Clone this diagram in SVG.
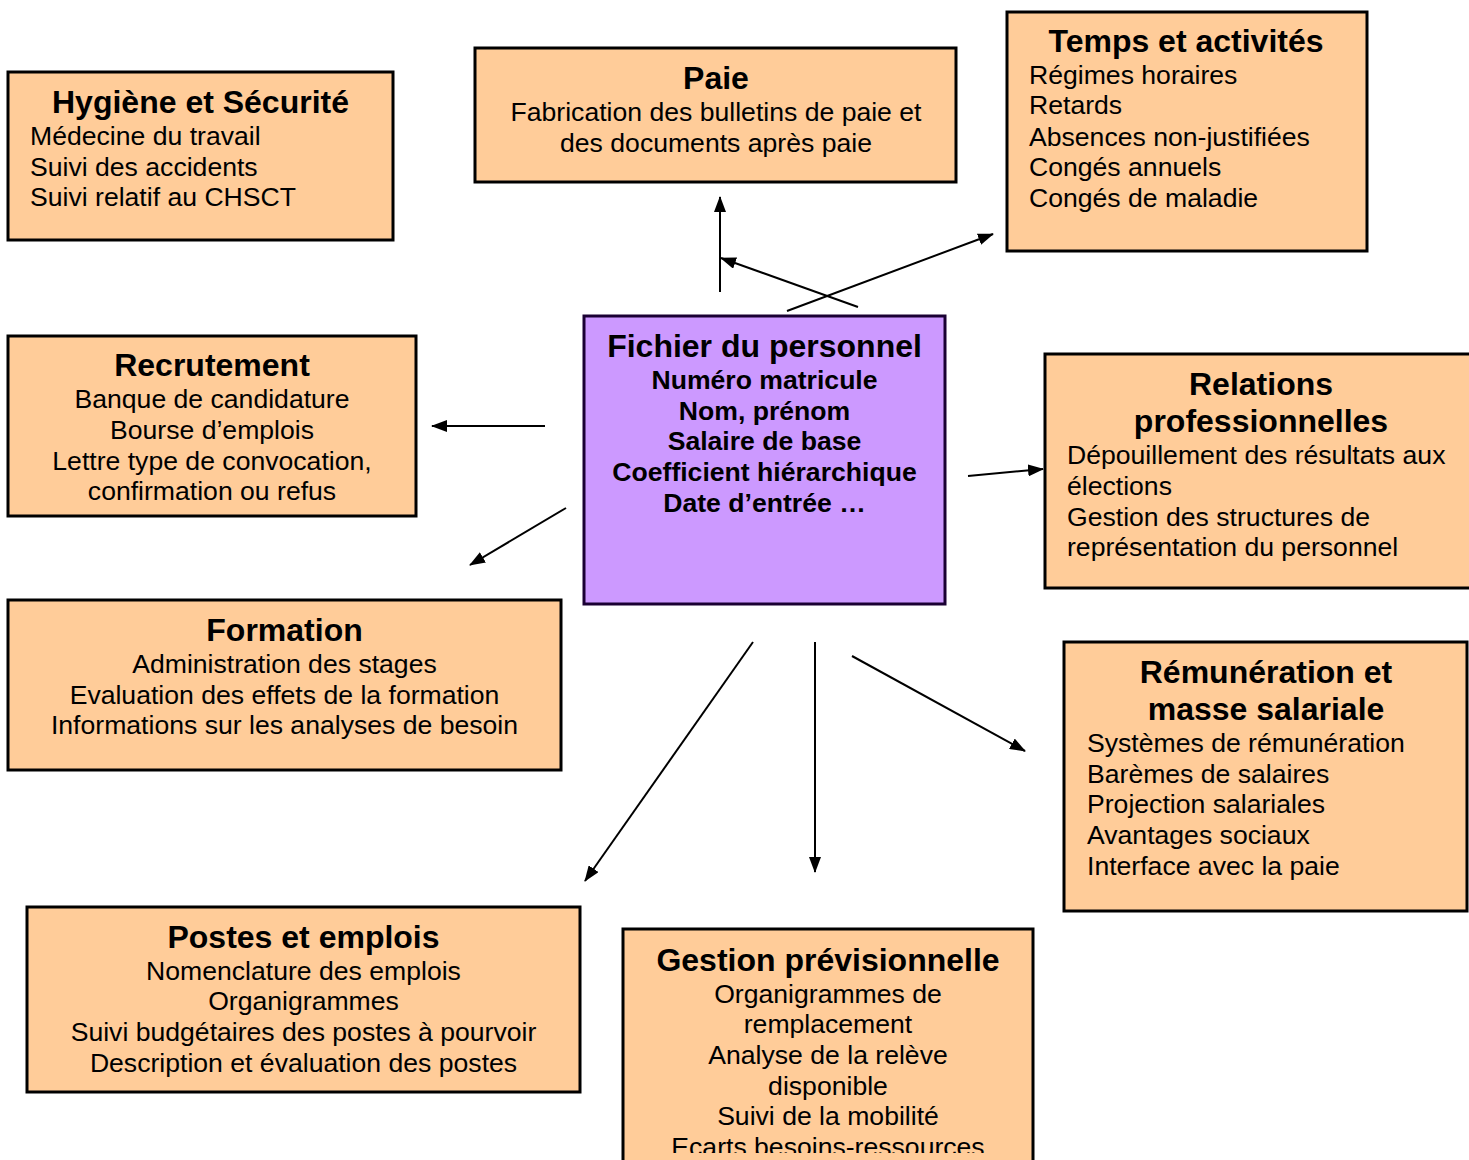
<svg xmlns="http://www.w3.org/2000/svg" width="1469" height="1160" viewBox="0 0 1469 1160">
<style>
.box{fill:#ffcc99;stroke:#000;stroke-width:3}
.main{fill:#cc99ff;stroke:#1a0033;stroke-width:3}
text{font-family:"Liberation Sans",Arial,sans-serif;fill:#000}
.t{font-size:32px;font-weight:bold;text-anchor:middle}
.b{font-size:26.6px}
.c{text-anchor:middle}
.bb{font-size:26.6px;font-weight:bold;text-anchor:middle}
.conn line{stroke:#000;stroke-width:2;marker-end:url(#ah)}
</style>
<defs>
<marker id="ah" markerWidth="16" markerHeight="12" refX="15" refY="6" orient="auto" markerUnits="userSpaceOnUse">
<path d="M0,0 L16,6 L0,12 Z" fill="#000"/>
</marker>
<clipPath id="gclip"><rect x="620" y="925" width="420" height="228"/></clipPath>
</defs>
<rect width="1469" height="1160" fill="#fff"/>

<g id="hygiene">
<rect class="box" x="8" y="72" width="385" height="168"/>
<text class="t" x="200.5" y="113">Hygiène et Sécurité</text>
<text class="b" x="30" y="145">Médecine du travail</text>
<text class="b" x="30" y="176">Suivi des accidents</text>
<text class="b" x="30" y="206">Suivi relatif au CHSCT</text>
</g>

<g id="paie">
<rect class="box" x="475" y="48" width="481" height="134"/>
<text class="t" x="716" y="89">Paie</text>
<text class="b c" x="716" y="121">Fabrication des bulletins de paie et</text>
<text class="b c" x="716" y="152">des documents après paie</text>
</g>

<g id="temps">
<rect class="box" x="1007" y="12" width="360" height="239"/>
<text class="t" x="1186" y="52">Temps et activités</text>
<text class="b" x="1029" y="84">Régimes horaires</text>
<text class="b" x="1029" y="114">Retards</text>
<text class="b" x="1029" y="146">Absences non-justifiées</text>
<text class="b" x="1029" y="176">Congés annuels</text>
<text class="b" x="1029" y="207">Congés de maladie</text>
</g>

<g id="recrutement">
<rect class="box" x="8" y="336" width="408" height="180"/>
<text class="t" x="212" y="376">Recrutement</text>
<text class="b c" x="212" y="408">Banque de candidature</text>
<text class="b c" x="212" y="439">Bourse d’emplois</text>
<text class="b c" x="212" y="470">Lettre type de convocation,</text>
<text class="b c" x="212" y="500">confirmation ou refus</text>
</g>

<g id="fichier">
<rect class="main" x="584" y="316" width="361" height="288"/>
<text class="t" x="764.5" y="357">Fichier du personnel</text>
<text class="bb" x="764.5" y="389">Numéro matricule</text>
<text class="bb" x="764.5" y="420">Nom, prénom</text>
<text class="bb" x="764.5" y="450">Salaire de base</text>
<text class="bb" x="764.5" y="481">Coefficient hiérarchique</text>
<text class="bb" x="764.5" y="512">Date d’entrée …</text>
</g>

<g id="relations">
<rect class="box" x="1045" y="354" width="430" height="234"/>
<text class="t" x="1261" y="395">Relations</text>
<text class="t" x="1261" y="432">professionnelles</text>
<text class="b" x="1067" y="464">Dépouillement des résultats aux</text>
<text class="b" x="1067" y="495">élections</text>
<text class="b" x="1067" y="526">Gestion des structures de</text>
<text class="b" x="1067" y="556">représentation du personnel</text>
</g>

<g id="formation">
<rect class="box" x="8" y="600" width="553" height="170"/>
<text class="t" x="284.5" y="641">Formation</text>
<text class="b c" x="284.5" y="673">Administration des stages</text>
<text class="b c" x="284.5" y="704">Evaluation des effets de la formation</text>
<text class="b c" x="284.5" y="734">Informations sur les analyses de besoin</text>
</g>

<g id="remuneration">
<rect class="box" x="1064" y="642" width="403" height="269"/>
<text class="t" x="1266" y="683">Rémunération et</text>
<text class="t" x="1266" y="720">masse salariale</text>
<text class="b" x="1087" y="752">Systèmes de rémunération</text>
<text class="b" x="1087" y="783">Barèmes de salaires</text>
<text class="b" x="1087" y="813">Projection salariales</text>
<text class="b" x="1087" y="844">Avantages sociaux</text>
<text class="b" x="1087" y="875">Interface avec la paie</text>
</g>

<g id="postes">
<rect class="box" x="27" y="907" width="553" height="185"/>
<text class="t" x="303.5" y="948">Postes et emplois</text>
<text class="b c" x="303.5" y="980">Nomenclature des emplois</text>
<text class="b c" x="303.5" y="1010">Organigrammes</text>
<text class="b c" x="303.5" y="1041">Suivi budgétaires des postes à pourvoir</text>
<text class="b c" x="303.5" y="1072">Description et évaluation des postes</text>
</g>

<g id="gestion">
<rect class="box" x="623" y="929" width="410" height="240"/>
<g clip-path="url(#gclip)">
<text class="t" x="828" y="971">Gestion prévisionnelle</text>
<text class="b c" x="828" y="1003">Organigrammes de</text>
<text class="b c" x="828" y="1033">remplacement</text>
<text class="b c" x="828" y="1064">Analyse de la relève</text>
<text class="b c" x="828" y="1095">disponible</text>
<text class="b c" x="828" y="1125">Suivi de la mobilité</text>
<text class="b c" x="828" y="1156">Ecarts besoins-ressources</text>
</g>
</g>

<g id="connectors" class="conn">
<line x1="720" y1="292" x2="720" y2="197"/>
<line x1="858" y1="307" x2="721" y2="258"/>
<line x1="787" y1="311" x2="993" y2="234"/>
<line x1="545" y1="426" x2="432" y2="426"/>
<line x1="566" y1="508" x2="470" y2="565"/>
<line x1="968" y1="476" x2="1043" y2="469"/>
<line x1="753" y1="642" x2="585" y2="881"/>
<line x1="815" y1="642" x2="815" y2="872"/>
<line x1="852" y1="656" x2="1025" y2="751"/>
</g>
</svg>
